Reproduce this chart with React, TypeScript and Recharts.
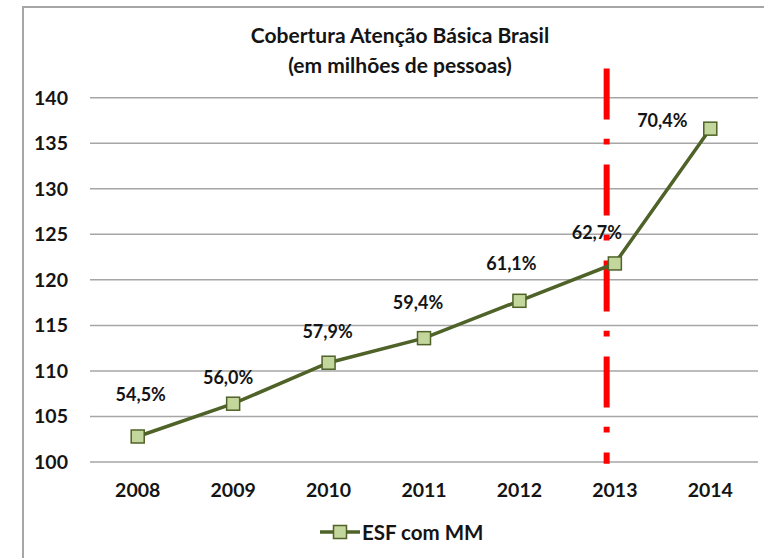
import { LineChart, Line, XAxis, YAxis, CartesianGrid, ReferenceLine, LabelList } from "recharts"

const years = [2008, 2009, 2010, 2011, 2012, 2013, 2014]
const coverage = [102.8, 106.4, 110.9, 113.6, 117.7, 121.8, 136.6]
const coverageLabels = ["54,5%", "56,0%", "57,9%", "59,4%", "61,1%", "62,7%", "70,4%"]
const yTicks = [100, 105, 110, 115, 120, 125, 130, 135, 140]
const dividerYear = 2012.914
const dividerRange = [99.8, 143.2]

const FONT = "Lato, 'Open Sans', sans-serif"
const TEXT = "#141414"
const OLIVE = "#4f6228"
const OLIVE_LIGHT = "#c3d69b"

// label placement (dx, dy from the point)
const labelOffsets = [
  [3, -42],
  [-5, -27],
  [-1, -32],
  [-6, -36],
  [-8, -38],
  [-18, -31],
  [-48, -9],
]

const data = years.map((year, i) => ({ year, value: coverage[i], label: coverageLabels[i] }))

function SquareDot(props: any) {
  const { cx, cy, index } = props
  if (cx == null || cy == null) return <g key={`dot-${index}`} />
  return (
    <rect
      key={`dot-${index}`}
      x={cx - 6.5}
      y={cy - 6.5}
      width={13}
      height={13}
      fill={OLIVE_LIGHT}
      stroke={OLIVE}
      strokeWidth={1.5}
    />
  )
}

function PctLabel(props: any) {
  const { index, value } = props
  const x = props.x ?? props.viewBox?.x
  const y = props.y ?? props.viewBox?.y
  if (x == null || y == null) return null
  const [dx, dy] = labelOffsets[index] ?? [0, -30]
  return (
    <text
      x={x + dx}
      y={y + dy}
      textAnchor="middle"
      dominantBaseline="central"
      fontFamily={FONT}
      fontWeight="bold"
      fontSize={18}
      fill={TEXT}
    >
      {value}
    </text>
  )
}

export default function App() {
  const tickStyle = { fontSize: 19.5, fontWeight: "bold", fill: TEXT, fontFamily: FONT }
  return (
    <div style={{ position: "absolute", left: 0, top: 0, width: 764, height: 558, overflow: "hidden", background: "#fff" }}>
      <div
        style={{
          position: "absolute",
          left: 22,
          top: 6,
          width: 800,
          height: 600,
          borderLeft: "2px solid #a6a6a6",
          borderTop: "2px solid #a6a6a6",
        }}
      />
      <div
        style={{
          position: "absolute",
          left: 36,
          top: 20,
          width: 728,
          textAlign: "center",
          fontFamily: FONT,
          fontWeight: "bold",
          fontSize: 21,
          lineHeight: "30px",
          color: TEXT,
        }}
      >
        <div>Cobertura Atenção Básica Brasil</div>
        <div>(em milhões de pessoas)</div>
      </div>
      <div style={{ position: "absolute", left: 0, top: 0 }}>
        <LineChart width={764} height={558} data={data} margin={{ top: 97.7, right: 6, bottom: 66, left: 0 }}>
          <CartesianGrid vertical={false} stroke="#a6a6a6" strokeWidth={1.5} />
          <XAxis
            type="number"
            dataKey="year"
            domain={[2007.5, 2014.5]}
            ticks={years}
            interval={0}
            height={30}
            tickLine={false}
            axisLine={false}
            tickMargin={15}
            tick={tickStyle}
          />
          <YAxis
            domain={[100, 140]}
            ticks={yTicks}
            interval={0}
            width={90}
            tickLine={false}
            axisLine={false}
            tickMargin={16}
            tick={tickStyle}
          />
          <ReferenceLine
            segment={[
              { x: dividerYear, y: dividerRange[1] },
              { x: dividerYear, y: dividerRange[0] },
            ]}
            stroke="#ff0000"
            strokeWidth={6}
            strokeDasharray="51 19.3 5.7 20"
            ifOverflow="visible"
          />
          <Line
            type="linear"
            dataKey="value"
            stroke={OLIVE}
            strokeWidth={3.5}
            dot={SquareDot}
            activeDot={false}
            isAnimationActive={false}
          >
            <LabelList dataKey="label" content={PctLabel} />
          </Line>
        </LineChart>
      </div>
      <div
        style={{
          position: "absolute",
          left: 320,
          top: 520,
          height: 24,
          display: "flex",
          alignItems: "center",
          fontFamily: FONT,
          fontWeight: "bold",
          fontSize: 20.5,
          color: TEXT,
        }}
      >
        <svg width={42} height={24}>
          <line x1={0} y1={12} x2={40} y2={12} stroke={OLIVE} strokeWidth={3.5} />
          <rect x={13.5} y={5.5} width={13} height={13} fill={OLIVE_LIGHT} stroke={OLIVE} strokeWidth={1.5} />
        </svg>
        <span>ESF com MM</span>
      </div>
    </div>
  )
}
